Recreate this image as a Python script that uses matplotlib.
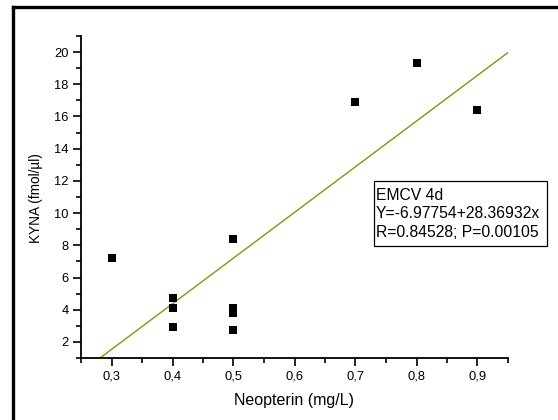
import matplotlib
matplotlib.use("Agg")
import matplotlib.pyplot as plt
from matplotlib.ticker import FixedLocator, FuncFormatter
from matplotlib.lines import Line2D
from matplotlib.patches import Rectangle
import numpy as np

plt.rcParams['font.family'] = ['Liberation Sans', 'DejaVu Sans']

neopterin = [0.3, 0.4, 0.4, 0.4, 0.5, 0.5, 0.5, 0.5, 0.7, 0.8, 0.9]
kyna = [7.2, 4.7, 4.1, 2.9, 8.4, 4.1, 3.8, 2.75, 16.9, 19.3, 16.4]
intercept = -6.97754
slope = 28.36932
x_ticks = [0.3, 0.4, 0.5, 0.6, 0.7, 0.8, 0.9]
y_ticks = [2, 4, 6, 8, 10, 12, 14, 16, 18, 20]
box_lines = ["EMCV 4d", "Y=-6.97754+28.36932x", "R=0.84528; P=0.00105"]

W, H = 558, 420
fig = plt.figure(figsize=(W/100, H/100), dpi=100)
ax = fig.add_axes([81/W, 1-358/H, (508-81)/W, (358-36)/H])

# outer frame (left and top edges visible)
fig.add_artist(Line2D([13/W, 13/W], [0, 1-7/H], transform=fig.transFigure,
                      color='black', lw=2.4, solid_capstyle='projecting'))
fig.add_artist(Line2D([13/W, 1], [1-7/H, 1-7/H], transform=fig.transFigure,
                      color='black', lw=2.4, solid_capstyle='projecting'))

ax.scatter(neopterin, kyna, marker='s', s=27, color='black', zorder=3, linewidths=0)

xl = np.array([0.25, 0.95])
ax.plot(xl, intercept + slope * xl, color='#8f8f10', lw=1.0, zorder=2)

ax.set_xlim(0.25, 0.95)
ax.set_ylim(1, 21)
ax.xaxis.set_major_locator(FixedLocator(x_ticks))
ax.xaxis.set_minor_locator(FixedLocator([0.25, 0.35, 0.45, 0.55, 0.65, 0.75, 0.85, 0.95]))
ax.yaxis.set_major_locator(FixedLocator(y_ticks))
ax.yaxis.set_minor_locator(FixedLocator([1, 3, 5, 7, 9, 11, 13, 15, 17, 19, 21]))
ax.xaxis.set_major_formatter(FuncFormatter(lambda v, p: f"{v:.1f}".replace('.', ',')))
ax.yaxis.set_major_formatter(FuncFormatter(lambda v, p: f"{int(round(v))}"))

for s in ['top', 'right']:
    ax.spines[s].set_visible(False)
for s in ['left', 'bottom']:
    ax.spines[s].set_linewidth(1.3)
ax.tick_params(which='major', direction='out', length=6, width=1.2, labelsize=9.3, pad=3)
ax.tick_params(which='minor', direction='out', length=3.5, width=1.2)

fig.text(294/W, 1-400/H, "Neopterin (mg/L)", fontsize=11.5, ha='center', va='center')
fig.text(36/W, 1-198/H, "KYNA (fmol/µl)", fontsize=9.8, ha='center', va='center',
         rotation=90)

# annotation box
fig.add_artist(Rectangle((374/W, 1-246/H), (547-374)/W, (246-181)/H,
                         transform=fig.transFigure, facecolor='white',
                         edgecolor='black', lw=0.9, zorder=4))
for i, line in enumerate(box_lines):
    fig.text(376/W, 1-(200 + 18.3*i)/H, line, fontsize=11.3, ha='left',
             va='baseline', zorder=5)

fig.savefig("out.png", dpi=100)
